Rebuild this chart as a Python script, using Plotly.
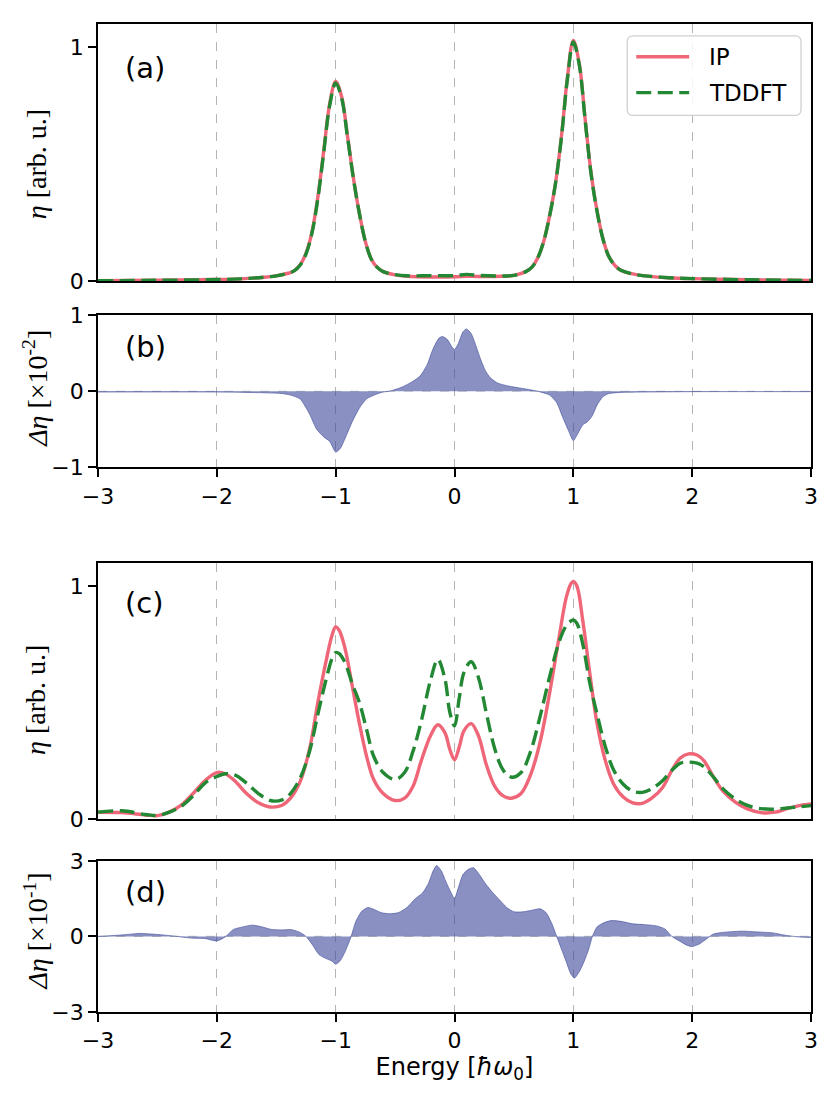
import plotly.graph_objects as go

# ---- panel (a): weak coupling spectra ----
x_a = [-3.0, -2.5, -2.0, -1.8, -1.6, -1.5, -1.4, -1.35, -1.3, -1.25, -1.2, -1.15, -1.1, -1.05,
       -1.0, -0.95, -0.9, -0.85, -0.8, -0.75, -0.7, -0.65, -0.6, -0.5, -0.4, -0.2, 0.0, 0.1,
       0.2, 0.4, 0.5, 0.6, 0.65, 0.7, 0.75, 0.8, 0.85, 0.9, 0.95, 1.0, 1.05, 1.1, 1.15, 1.2,
       1.25, 1.3, 1.35, 1.4, 1.5, 1.6, 1.8, 2.0, 2.5, 3.0]
ip_a = [0.003, 0.005, 0.008, 0.011, 0.018, 0.024, 0.035, 0.045, 0.07, 0.12, 0.21, 0.36, 0.56, 0.76,
        0.855, 0.79, 0.62, 0.44, 0.29, 0.17, 0.095, 0.06, 0.042, 0.028, 0.022, 0.019, 0.02, 0.022,
        0.021, 0.022, 0.026, 0.042, 0.06, 0.10, 0.17, 0.28, 0.42, 0.62, 0.87, 1.03, 0.93, 0.69, 0.46, 0.30,
        0.18, 0.105, 0.068, 0.048, 0.032, 0.024, 0.016, 0.012, 0.007, 0.004]
tddft_a = [0.003, 0.005, 0.008, 0.011, 0.018, 0.024, 0.035, 0.045, 0.069, 0.117, 0.205, 0.353, 0.553, 0.753,
           0.847, 0.783, 0.615, 0.437, 0.289, 0.17, 0.095, 0.06, 0.042, 0.029, 0.024, 0.025, 0.025, 0.03,
           0.026, 0.023, 0.026, 0.042, 0.06, 0.10, 0.17, 0.279, 0.418, 0.616, 0.864, 1.023, 0.925, 0.685, 0.456, 0.298,
           0.18, 0.105, 0.068, 0.048, 0.032, 0.024, 0.016, 0.012, 0.007, 0.004]

# ---- panel (b): difference, units of 1e-2 ----
x_b = [-3.0, -2.0, -1.6, -1.45, -1.38, -1.3, -1.22, -1.16, -1.1, -1.05, -1.0, -0.96, -0.91, -0.86,
       -0.8, -0.74, -0.66, -0.6, -0.55, -0.45, -0.35, -0.29, -0.23, -0.18, -0.13, -0.1, -0.06, -0.02,
       0.0, 0.03, 0.07, 0.1, 0.14, 0.18, 0.22, 0.26, 0.3, 0.36, 0.45, 0.6, 0.7, 0.8, 0.86, 0.91, 0.96,
       1.0, 1.04, 1.08, 1.12, 1.16, 1.2, 1.25, 1.3, 1.4, 1.6, 2.0, 3.0]
diff_b = [-0.01, -0.01, -0.02, -0.03, -0.05, -0.1, -0.3, -0.5, -0.6, -0.66, -0.8, -0.75, -0.58, -0.4,
          -0.22, -0.1, -0.04, -0.01, 0.0, 0.05, 0.13, 0.2, 0.35, 0.56, 0.7, 0.72, 0.68, 0.58,
          0.55, 0.62, 0.78, 0.82, 0.76, 0.6, 0.42, 0.27, 0.18, 0.11, 0.07, 0.03, 0.0, -0.05, -0.15, -0.34, -0.52,
          -0.65, -0.55, -0.44, -0.4, -0.32, -0.18, -0.07, -0.03, -0.015, -0.01, -0.005, -0.005]

# ---- panel (c): strong coupling spectra ----
x_c = [-3.0, -2.8, -2.6, -2.5, -2.4, -2.3, -2.2, -2.1, -2.0, -1.93, -1.85, -1.75, -1.65, -1.55,
       -1.45, -1.38, -1.3, -1.22, -1.15, -1.08, -1.03, -1.0, -0.97, -0.92, -0.86, -0.8, -0.74, -0.68,
       -0.6, -0.5, -0.42, -0.35, -0.28, -0.2, -0.14, -0.08, -0.04, 0.0, 0.04, 0.08, 0.14, 0.2, 0.27,
       0.34, 0.41, 0.48, 0.56, 0.64, 0.72, 0.8, 0.88, 0.94, 0.98, 1.0, 1.03, 1.08, 1.14, 1.2, 1.27,
       1.34, 1.42, 1.5, 1.58, 1.66, 1.75, 1.83, 1.9, 1.97, 2.04, 2.1, 2.18, 2.26, 2.36, 2.46, 2.58,
       2.7, 2.8, 2.9, 3.0]
ip_c = [0.03, 0.028, 0.018, 0.015, 0.03, 0.06, 0.11, 0.165, 0.2, 0.195, 0.165, 0.11, 0.07, 0.052,
        0.06, 0.09, 0.16, 0.3, 0.5, 0.68, 0.79, 0.825, 0.81, 0.73, 0.57, 0.41, 0.27, 0.17,
        0.11, 0.08, 0.09, 0.14, 0.25, 0.36, 0.405, 0.37, 0.3, 0.255, 0.31, 0.38, 0.41, 0.36, 0.23,
        0.14, 0.1, 0.09, 0.11, 0.19, 0.33, 0.54, 0.78, 0.95, 1.01, 1.02, 1.0, 0.85, 0.62, 0.41, 0.25,
        0.15, 0.095, 0.07, 0.068, 0.09, 0.135, 0.21, 0.262, 0.28, 0.275, 0.25, 0.18, 0.12, 0.074, 0.045, 0.028,
        0.03, 0.045, 0.058, 0.065]
tddft_c = [0.03, 0.036, 0.02, 0.016, 0.03, 0.055, 0.10, 0.155, 0.183, 0.195, 0.19, 0.155, 0.11, 0.08,
           0.083, 0.11, 0.175, 0.29, 0.45, 0.6, 0.69, 0.715, 0.71, 0.67, 0.58, 0.50, 0.385, 0.27,
           0.2, 0.17, 0.2, 0.29, 0.42, 0.6, 0.685, 0.6, 0.46, 0.40, 0.52, 0.63, 0.675, 0.61, 0.45,
           0.3, 0.21, 0.18, 0.20, 0.29, 0.44, 0.61, 0.76, 0.83, 0.85, 0.855, 0.84, 0.75, 0.58, 0.45, 0.31,
           0.21, 0.15, 0.12, 0.115, 0.13, 0.165, 0.21, 0.24, 0.245, 0.24, 0.225, 0.18, 0.13, 0.088, 0.06, 0.045,
           0.043, 0.048, 0.053, 0.058]

# ---- panel (d): difference, units of 1e-1 ----
x_d = [-3.0, -2.8, -2.65, -2.5, -2.37, -2.2, -2.1, -2.0, -1.93, -1.86, -1.78, -1.7, -1.62, -1.54,
       -1.45, -1.37, -1.3, -1.25, -1.2, -1.14, -1.08, -1.03, -1.0, -0.96, -0.92, -0.87, -0.83, -0.78,
       -0.73, -0.68, -0.62, -0.55, -0.47, -0.4, -0.33, -0.27, -0.22, -0.18, -0.15, -0.11, -0.07, -0.03,
       0.0, 0.03, 0.07, 0.11, 0.16, 0.21, 0.26, 0.32, 0.38, 0.44, 0.5, 0.58, 0.66, 0.72, 0.77, 0.82,
       0.86, 0.9, 0.94, 0.98, 1.01, 1.05, 1.09, 1.13, 1.16, 1.2, 1.26, 1.32, 1.4, 1.5, 1.6, 1.7, 1.77,
       1.83, 1.9, 1.96, 2.0, 2.06, 2.12, 2.18, 2.3, 2.42, 2.55, 2.68, 2.78, 2.9, 3.0]
diff_d = [0.0, 0.06, 0.12, 0.08, 0.02, -0.07, -0.08, -0.18, -0.02, 0.28, 0.38, 0.45, 0.38, 0.28,
          0.26, 0.27, 0.16, 0.0, -0.3, -0.72, -0.88, -0.98, -1.1, -0.95, -0.6, 0.0, 0.6, 1.0,
          1.15, 1.08, 0.95, 0.9, 0.95, 1.15, 1.5, 1.72, 2.1, 2.6, 2.82, 2.6, 2.15, 1.75,
          1.5, 1.9, 2.45, 2.65, 2.73, 2.45, 2.1, 1.75, 1.45, 1.15, 0.98, 0.98, 1.05, 1.1, 0.95, 0.5,
          0.0, -0.5, -1.0, -1.5, -1.65, -1.4, -1.0, -0.5, 0.0, 0.38, 0.55, 0.63, 0.6, 0.5, 0.47, 0.42, 0.3,
          0.0, -0.2, -0.36, -0.4, -0.3, -0.1, 0.1, 0.18, 0.21, 0.18, 0.14, 0.05, -0.02, -0.04]

x_ticks = [-3, -2, -1, 0, 1, 2, 3]
panel_tags = ["(a)", "(b)", "(c)", "(d)"]
legend_names = ["IP", "TDDFT"]

RED = "#EE6677"
GREEN = "#228833"
FILL = "rgba(60,72,153,0.6)"
DASH = "15px,6.5px"
LW = 3.4
TICKFONT = dict(family="DejaVu Sans", size=22, color="black")

W, H = 830, 1102
ML, MR, MT, MB = 98, 18, 18, 90
PW, PH = W - ML - MR, H - MT - MB


def px(xp):
    return (xp - ML) / PW


def py(yp):
    return (H - MB - yp) / PH


fig = go.Figure()

# spectra
fig.add_trace(go.Scatter(x=x_a, y=ip_a, mode="lines", line=dict(color=RED, width=LW, shape="spline"),
                         xaxis="x", yaxis="y"))
fig.add_trace(go.Scatter(x=x_a, y=tddft_a, mode="lines",
                         line=dict(color=GREEN, width=LW, dash=DASH, shape="spline"),
                         xaxis="x", yaxis="y"))
fig.add_trace(go.Scatter(x=x_c, y=ip_c, mode="lines", line=dict(color=RED, width=LW, shape="spline"),
                         xaxis="x3", yaxis="y3"))
fig.add_trace(go.Scatter(x=x_c, y=tddft_c, mode="lines",
                         line=dict(color=GREEN, width=LW, dash=DASH, shape="spline"),
                         xaxis="x3", yaxis="y3"))

# differences
fig.add_trace(go.Scatter(x=x_b, y=diff_b, mode="lines", fill="tozeroy", fillcolor=FILL,
                         line=dict(color=FILL, width=1, shape="spline", smoothing=0.6),
                         xaxis="x2", yaxis="y2"))
fig.add_trace(go.Scatter(x=x_d, y=diff_d, mode="lines", fill="tozeroy", fillcolor=FILL,
                         line=dict(color=FILL, width=1, shape="spline", smoothing=0.6),
                         xaxis="x4", yaxis="y4"))

# plot-area geometry (paper fractions)
dom = {
    "a": [py(277), py(18)],
    "b": [py(464), py(311)],
    "c": [py(818), py(560)],
    "d": [py(1012), py(860)],
}

common_x = dict(range=[-3, 3], tickvals=x_ticks, ticktext=["−3", "−2", "−1", "0", "1", "2", "3"],
                showgrid=True, gridcolor="#b4b4b4", griddash="dash",
                gridwidth=1.4, showline=True, linecolor="black", linewidth=1.8, mirror=True,
                zeroline=False, tickfont=TICKFONT)
common_y = dict(showgrid=False, zeroline=False, showline=True, linecolor="black", linewidth=1.8,
                mirror=True, ticks="outside", ticklen=8, tickwidth=1.5, tickcolor="black",
                tickfont=TICKFONT)

fig.update_layout(
    width=W, height=H,
    margin=dict(l=ML, r=MR, t=MT, b=MB),
    plot_bgcolor="white", paper_bgcolor="white",
    showlegend=False,
    xaxis=dict(common_x, domain=[0, 1], anchor="y", ticks="", showticklabels=False),
    xaxis2=dict(common_x, domain=[0, 1], anchor="y2", ticks="outside", ticklen=8, tickwidth=1.5,
                tickcolor="black", matches="x"),
    xaxis3=dict(common_x, domain=[0, 1], anchor="y3", ticks="", showticklabels=False, matches="x"),
    xaxis4=dict(common_x, domain=[0, 1], anchor="y4", ticks="outside", ticklen=8, tickwidth=1.5,
                tickcolor="black", matches="x",
                title=dict(text="Energy [<i>ħω</i><sub>0</sub>]",
                           font=dict(family="DejaVu Sans", size=24, color="black"), standoff=6)),
    yaxis=dict(common_y, domain=dom["a"], anchor="x", range=[0, 1.1], tickvals=[0, 1]),
    yaxis2=dict(common_y, domain=dom["b"], anchor="x2", range=[-1, 1], tickvals=[-1, 0, 1],
                ticktext=["−1", "0", "1"]),
    yaxis3=dict(common_y, domain=dom["c"], anchor="x3", range=[0, 1.1], tickvals=[0, 1]),
    yaxis4=dict(common_y, domain=dom["d"], anchor="x4", range=[-3, 3], tickvals=[-3, 0, 3],
                ticktext=["−3", "0", "3"]),
)

# dashed zero lines under the difference fills
for ax in ["2", "4"]:
    fig.add_shape(type="line", xref="x" + ax, yref="y" + ax, x0=-3, x1=3, y0=0, y1=0,
                  line=dict(color="#cccccc", width=1.2, dash="dash"), layer="below")

# legend box drawn by hand (matplotlib style, rounded frame)
bx0, bx1, by0, by1, rad = 628, 802, 30, 110, 6
rx, ry = rad / PW, rad / PH
X0, X1, Y0, Y1 = px(bx0), px(bx1), py(by1), py(by0)
frame = (f"M{X0 + rx},{Y0} L{X1 - rx},{Y0} Q{X1},{Y0} {X1},{Y0 + ry} L{X1},{Y1 - ry} "
         f"Q{X1},{Y1} {X1 - rx},{Y1} L{X0 + rx},{Y1} Q{X0},{Y1} {X0},{Y1 - ry} "
         f"L{X0},{Y0 + ry} Q{X0},{Y0} {X0 + rx},{Y0} Z")
fig.add_shape(type="path", path=frame, xref="paper", yref="paper",
              fillcolor="rgba(255,255,255,0.85)", line=dict(color="#d0d0d0", width=1.3), layer="above")
for name, yy, col, dash in [(legend_names[0], 51, RED, "solid"), (legend_names[1], 87, GREEN, DASH)]:
    fig.add_shape(type="line", xref="paper", yref="paper", x0=px(637), x1=px(690), y0=py(yy), y1=py(yy),
                  line=dict(color=col, width=LW, dash=dash), layer="above")
    fig.add_annotation(text=name, xref="paper", yref="paper", x=px(708), y=py(yy), xanchor="left",
                       yanchor="middle", showarrow=False,
                       font=dict(family="DejaVu Sans", size=23, color="black"))

# panel tags
tag_y = [62, 343, 601, 891]
for tag, ty in zip(panel_tags, tag_y):
    fig.add_annotation(text=tag, xref="paper", yref="paper", x=px(123), y=py(ty), xanchor="left",
                       yanchor="middle", showarrow=False,
                       font=dict(family="DejaVu Sans", size=29, color="black"))

# y labels, aligned like matplotlib's align_ylabels
ylabels = ["<i>η</i> [arb. u.]", "<i>Δη</i> [×10<sup>-2</sup>]",
           "<i>η</i> [arb. u.]", "<i>Δη</i> [×10<sup>-1</sup>]"]
label_y = [159, 385, 698, 931]
for txt, ly in zip(ylabels, label_y):
    fig.add_annotation(text=txt, xref="paper", yref="paper", x=px(36), y=py(ly), xanchor="center",
                       yanchor="middle", textangle=-90, showarrow=False,
                       font=dict(family="Liberation Serif", size=28, color="black"))

fig.write_html("out.html", config={"displayModeBar": False},
               post_script="document.body.style.margin='0';document.body.style.overflow='hidden';")
